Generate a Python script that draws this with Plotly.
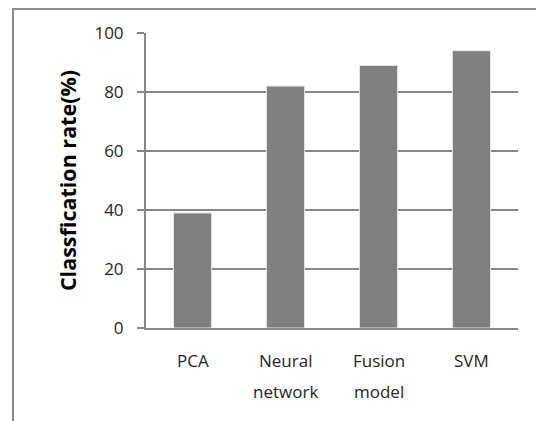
import plotly.graph_objects as go

categories = ["PCA", "Neural network", "Fusion model", "SVM"]
rates = [39, 82, 89, 94]
y_ticks = [0, 20, 40, 60, 80, 100]
y_title = "Classfication rate(%)"

# page body has an 8px margin, so the figure is drawn 8px in from the window edge
W, H = 536, 413
L, R, T, B = 138, 26, 25, 93
pw, ph = W - L - R, H - T - B

fig = go.Figure()
fig.add_trace(go.Bar(
    x=list(range(len(categories))), y=rates,
    marker=dict(color="#808080", line=dict(color="#e6e6e6", width=1)),
    width=0.41,
))

font_family = "Open Sans"
annotations = []
for i, lab in enumerate(categories):
    for j, line in enumerate(lab.split(" ")):
        annotations.append(dict(
            x=i, xref="x", y=0, yref="paper", yanchor="middle",
            yshift=-32 - 31 * j, text=line, showarrow=False,
            font=dict(family=font_family, size=17, color="#262626"),
        ))

def px_x(x):
    return (x - L) / pw

def px_y(y):
    return (H - B - y) / ph

fig.update_layout(
    width=W, height=H,
    margin=dict(l=L, r=R, t=T, b=B),
    paper_bgcolor="white", plot_bgcolor="white",
    showlegend=False,
    annotations=annotations,
    shapes=[dict(type="rect", xref="paper", yref="paper",
                 x0=px_x(5), x1=px_x(560), y0=px_y(440), y1=px_y(1),
                 line=dict(color="#8c8c8c", width=2), fillcolor="rgba(0,0,0,0)", layer="below")],
    xaxis=dict(range=[-0.5, len(categories) - 0.5], showticklabels=False,
               showgrid=False, zeroline=False, showline=True,
               linecolor="#868686", linewidth=2, ticks=""),
    yaxis=dict(range=[0, 100], tickvals=y_ticks, showgrid=True,
               gridcolor="#868686", gridwidth=2, zeroline=False,
               showline=True, linecolor="#868686", linewidth=2,
               ticks="outside", ticklen=7, tickcolor="#868686", tickwidth=2,
               ticklabelstandoff=10,
               tickfont=dict(family=font_family, size=17, color="#262626"),
               title=dict(text=y_title, standoff=12,
                          font=dict(family=font_family, size=21.5, color="black", weight="bold"))),
)

fig.write_html("out.html")
